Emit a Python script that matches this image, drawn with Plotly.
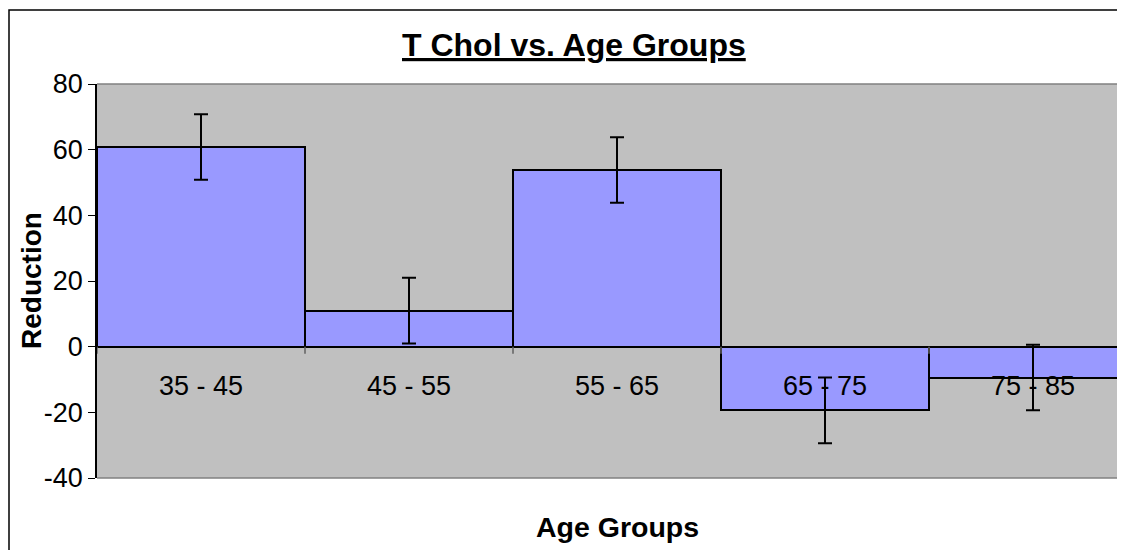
import plotly.graph_objects as go

categories = ["35 - 45", "45 - 55", "55 - 65", "65 - 75", "75 - 85"]
reduction = [60.8, 11.0, 53.8, -19.4, -9.4]
error = [10, 10, 10, 10, 10]
y_ticks = [-40, -20, 0, 20, 40, 60, 80]

OFF = 8  # default page body margin
W, H = 1125 - OFF, 558 - 2 * OFF
ML, MR, MT = 97 - OFF, 0, 84 - OFF
MB = H - (478 - OFF)
PW = W - ML - MR
PH = H - MT - MB

def px_x(p):
    return (p - OFF - ML) / PW

def px_y(p):
    return (H - MB - (p - OFF)) / PH

FONT = "Arial, 'Liberation Sans', sans-serif"
idx = list(range(len(categories)))

fig = go.Figure()
fig.add_trace(go.Bar(
    x=idx, y=reduction,
    marker=dict(color="#9999FF", line=dict(color="black", width=2)),
    error_y=dict(type="data", array=error, visible=True, color="black",
                 thickness=2, width=7),
    width=1.0,
    showlegend=False,
))

shapes = []
for i in range(len(categories) + 1):
    shapes.append(dict(type="line", xref="x", yref="y", x0=i - 0.5, x1=i - 0.5,
                       ysizemode="pixel", yanchor=0, y0=0, y1=-7,
                       line=dict(color="#606060", width=1.5), layer="above"))
shapes.append(dict(type="line", xref="paper", yref="paper", x0=0, x1=1.02, y0=1, y1=1,
                   line=dict(color="#808080", width=1.5)))
shapes.append(dict(type="line", xref="paper", yref="paper", x0=0, x1=1.02, y0=0, y1=0,
                   line=dict(color="#808080", width=1.5)))
shapes.append(dict(type="rect", xref="paper", yref="paper",
                   x0=px_x(9), x1=px_x(1140), y0=px_y(600), y1=px_y(10),
                   line=dict(color="black", width=1.5), fillcolor="rgba(0,0,0,0)",
                   layer="below"))

annotations = []
for i, c in enumerate(categories):
    annotations.append(dict(x=i, y=0, xref="x", yref="y", text=c, showarrow=False,
                            yshift=-39, font=dict(family=FONT, size=27, color="black"),
                            xanchor="center", yanchor="middle"))
annotations.append(dict(x=px_x(574), y=px_y(45), xref="paper", yref="paper",
                        text="<b><u>T Chol vs. Age Groups</u></b>", showarrow=False,
                        font=dict(family=FONT, size=32, color="black"),
                        xanchor="center", yanchor="middle"))
annotations.append(dict(x=px_x(617), y=px_y(527), xref="paper", yref="paper",
                        text="<b>Age Groups</b>", showarrow=False,
                        font=dict(family=FONT, size=28.5, color="black"),
                        xanchor="center", yanchor="middle"))
annotations.append(dict(x=px_x(31), y=px_y(281), xref="paper", yref="paper",
                        text="<b>Reduction</b>", showarrow=False, textangle=-90,
                        font=dict(family=FONT, size=28, color="black"),
                        xanchor="center", yanchor="middle"))

fig.update_layout(
    width=W, height=H,
    margin=dict(l=ML, r=MR, t=MT, b=MB, pad=0),
    paper_bgcolor="white",
    plot_bgcolor="#C0C0C0",
    bargap=0,
    shapes=shapes,
    annotations=annotations,
    xaxis=dict(range=[-0.5, -0.5 + PW / 208.0], showticklabels=False, ticks="",
               showgrid=False, zeroline=False, showline=False, fixedrange=True),
    yaxis=dict(range=[-40, 80], tickvals=y_ticks, ticktext=[str(v) for v in y_ticks],
               ticks="outside", ticklen=7, tickcolor="black", tickwidth=1,
               showgrid=False, zeroline=True, zerolinecolor="black", zerolinewidth=2,
               showline=True, linecolor="black", linewidth=1.5,
               tickfont=dict(family=FONT, size=27, color="black")),
)

fig.write_html("out.html")
